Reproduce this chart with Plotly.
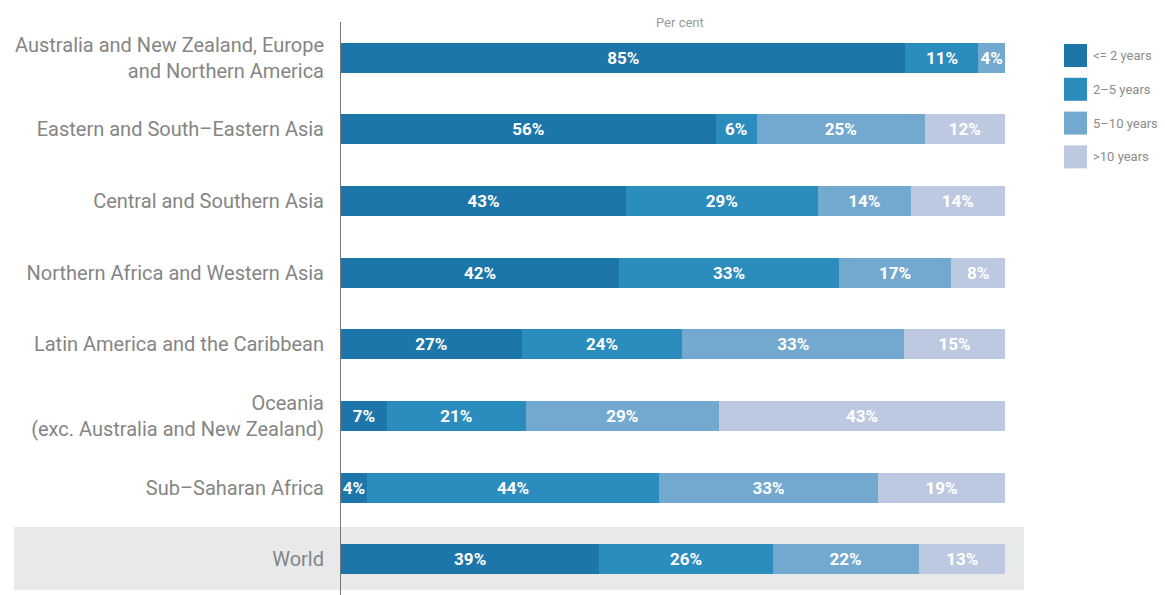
import plotly.graph_objects as go

categories = [
    "Australia and New Zealand, Europe<br>and Northern America",
    "Eastern and South\u2013Eastern Asia",
    "Central and Southern Asia",
    "Northern Africa and Western Asia",
    "Latin America and the Caribbean",
    "Oceania<br>(exc. Australia and New Zealand)",
    "Sub\u2013Saharan Africa",
    "World",
]
series_names = ["<= 2 years", "2\u20135 years", "5\u201310 years", ">10 years"]
le2 = [85, 56.4, 42.9, 41.9, 27.2, 6.9, 3.9, 38.9]
y2_5 = [11, 6.2, 28.9, 33.1, 24.2, 20.9, 44.0, 26.1]
y5_10 = [4, 25.3, 14.0, 16.9, 33.4, 29.1, 33.0, 22.0]
gt10 = [None, 12.1, 14.2, 8.1, 15.2, 43.1, 19.1, 13.1]
series_values = [le2, y2_5, y5_10, gt10]
colors = ["#1d76a9", "#2b8cbe", "#74a9cf", "#bdc9e1"]

# page body has an 8px margin: figure sits at (8, 8)
L, T, PW, PH = 333, 14, 664, 573

fig = go.Figure()
for name, vals, col in zip(series_names, series_values, colors):
    fig.add_trace(go.Bar(
        y=categories, x=vals, name=name, orientation="h",
        marker=dict(color=col, line=dict(width=0)),
        width=0.42,
        texttemplate="%{x:.0f}%", textposition="inside",
        insidetextanchor="middle", textangle=0, constraintext="none",
        textfont=dict(family="Roboto, sans-serif",
                      size=17, color="white", weight="bold"),
        showlegend=False, hoverinfo="skip",
    ))

shapes = [dict(type="rect", xref="paper", yref="y",
               x0=(14 - 341) / 664, x1=(1024 - 341) / 664,
               y0=6.55, y1=7.43, fillcolor="#e8e9eb", line=dict(width=0),
               layer="below")]
annotations = [dict(xref="paper", yref="paper", x=0.5105, y=1.0,
                    text="Per cent", showarrow=False, yanchor="middle",
                    xanchor="center",
                    font=dict(family="Roboto, sans-serif", size=13, color="#9a9a9a"))]

# manual legend
for i, (name, col) in enumerate(zip(series_names, colors)):
    cy = 55.5 + i * 33.8
    shapes.append(dict(type="rect", xref="paper", yref="paper",
                       x0=(1064 - 341) / 664, x1=(1087 - 341) / 664,
                       y0=1 - (cy + 11.5 - 22) / 573, y1=1 - (cy - 11.5 - 22) / 573,
                       fillcolor=col, line=dict(width=0)))
    annotations.append(dict(xref="paper", yref="paper",
                            x=(1091 - 341) / 664, y=1 - (cy - 22) / 573,
                            text=name.replace("<", "&lt;").replace(">", "&gt;"),
                            showarrow=False, xanchor="left", yanchor="middle",
                            font=dict(family="Roboto, sans-serif", size=13, color="#8c8c8c")))

fig.update_layout(
    width=L + PW + 160, height=T + PH,
    margin=dict(l=L, r=160, t=T, b=0),
    barmode="stack",
    bargap=0.58,
    plot_bgcolor="rgba(0,0,0,0)",
    paper_bgcolor="white",
    shapes=shapes,
    annotations=annotations,
    xaxis=dict(range=[0, 100], visible=False, fixedrange=True),
    yaxis=dict(autorange="reversed", showline=True, linecolor="#777777",
               linewidth=1, showgrid=False, zeroline=False, ticks="",
               ticklabelstandoff=12,
               tickfont=dict(family="Roboto, sans-serif", size=20, color="#858585")),
)

fig.write_html("out.html")
